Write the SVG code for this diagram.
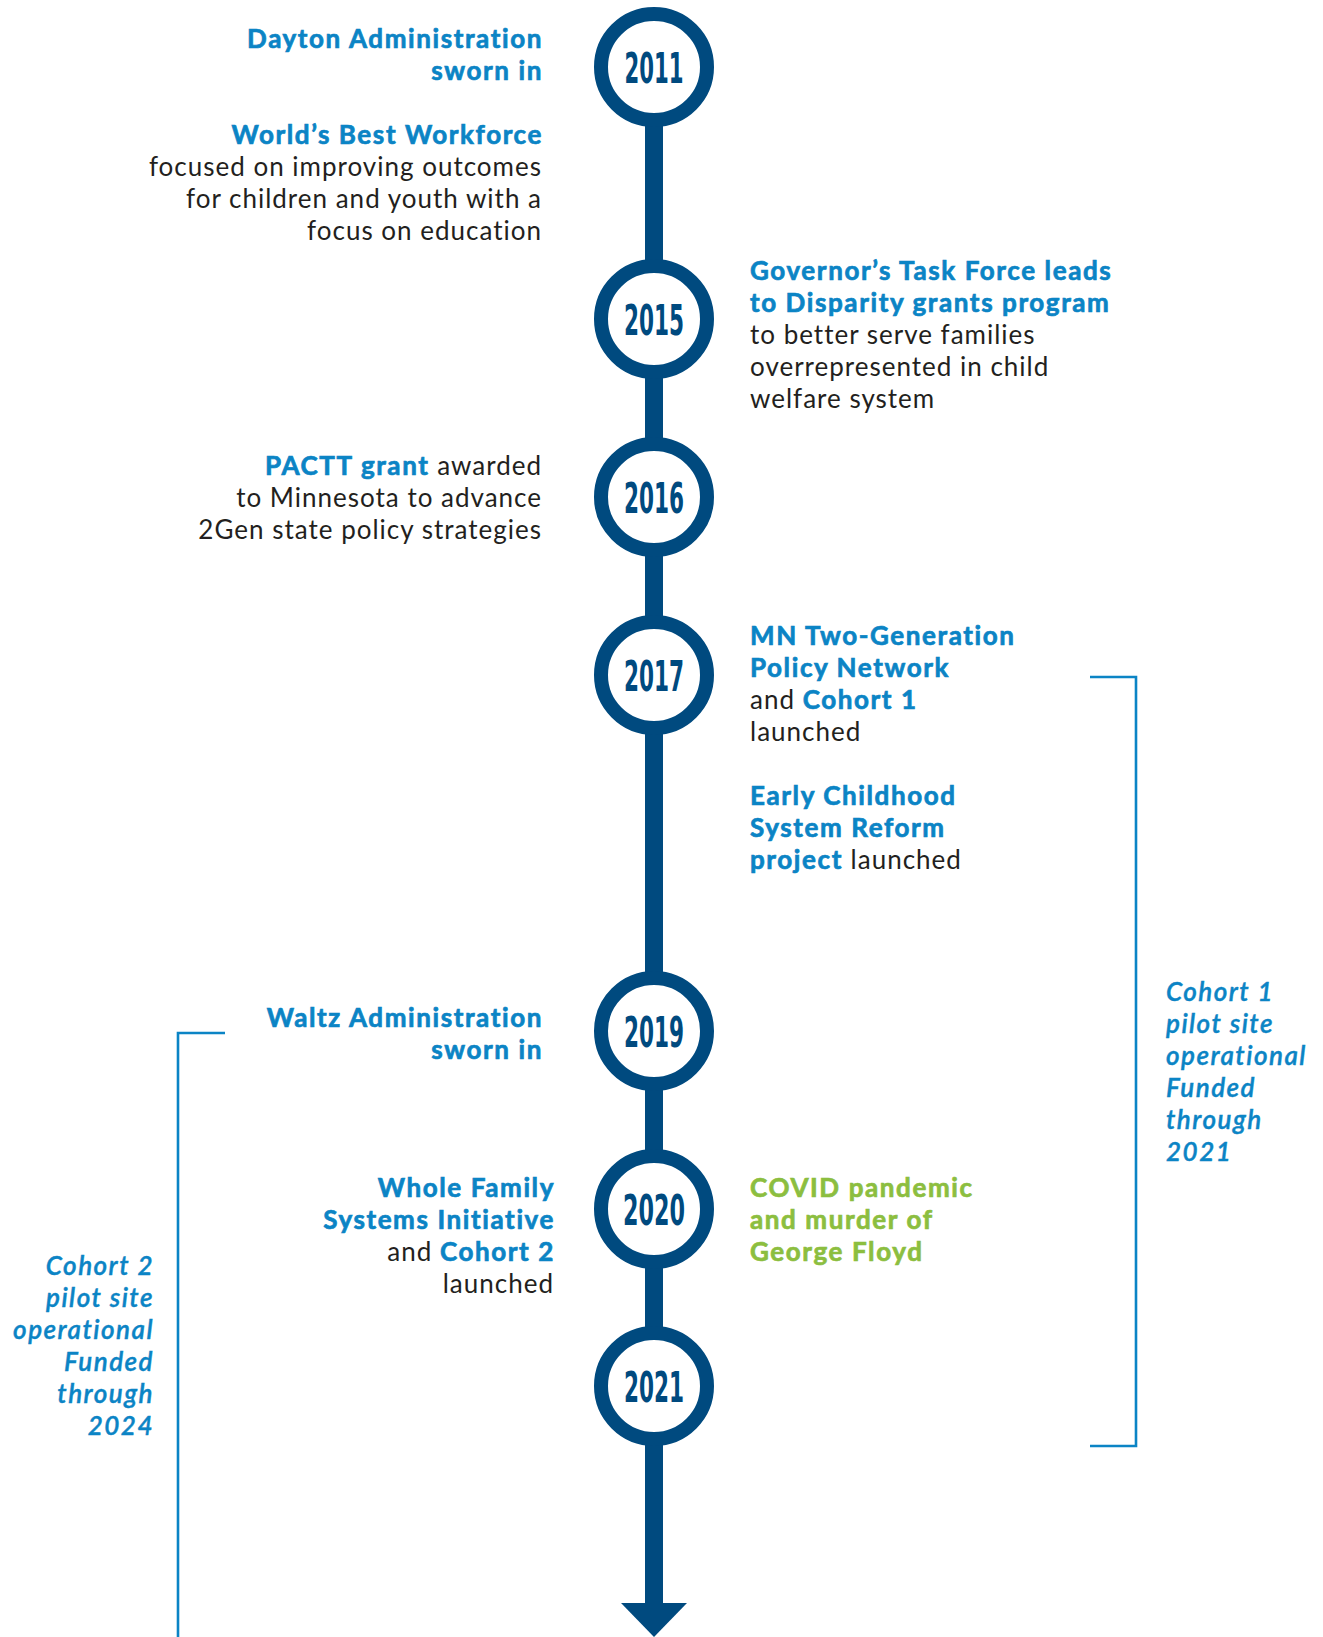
<svg xmlns="http://www.w3.org/2000/svg" width="1323" height="1637" viewBox="0 0 1323 1637">
<style>
  text { font-family: Lato, "Open Sans", "Liberation Sans", sans-serif; font-size: 26px; fill: #231f20; letter-spacing: 1px; }
  .b { font-weight: bold; fill: #0b84c5; stroke: #0b84c5; stroke-width: 0.7; letter-spacing: 1.6px; }
  .g { font-weight: bold; fill: #8cbe3f; stroke: #8cbe3f; stroke-width: 0.7; letter-spacing: 1.6px; }
  .it { font-style: italic; font-weight: 600; fill: #0b84c5; stroke: #0b84c5; stroke-width: 0.4; letter-spacing: 1.5px; }
  .r { text-anchor: end; }
  .yr { font-family: "DejaVu Sans Condensed", "Liberation Sans", sans-serif; font-weight: bold; font-size: 43px; fill: #004a7f; text-anchor: middle; letter-spacing: 0; stroke: none; }
  .ring { fill: #ffffff; stroke: #004a7f; stroke-width: 14; }
  .br { fill: none; stroke: #0b84c5; stroke-width: 2.6; }
</style>
<rect width="1323" height="1637" fill="#ffffff"/>
<g id="connectors">
  <rect x="645" y="67" width="18" height="1540" fill="#004a7f"/>
  <polygon points="621,1603 687,1603 654,1637" fill="#004a7f"/>
  <polyline class="br" points="1090,677 1136,677 1136,1446 1090,1446"/>
  <polyline class="br" points="225,1033 178,1033 178,1637"/>
</g>
<g id="y2011"><circle class="ring" cx="654" cy="67" r="53"/><text class="yr" x="654" y="83" textLength="59" lengthAdjust="spacingAndGlyphs">2011</text></g>
<g id="y2015"><circle class="ring" cx="654" cy="319" r="53"/><text class="yr" x="654" y="335" textLength="60" lengthAdjust="spacingAndGlyphs">2015</text></g>
<g id="y2016"><circle class="ring" cx="654" cy="497" r="53"/><text class="yr" x="654" y="513" textLength="60" lengthAdjust="spacingAndGlyphs">2016</text></g>
<g id="y2017"><circle class="ring" cx="654" cy="675" r="53"/><text class="yr" x="654" y="691" textLength="60" lengthAdjust="spacingAndGlyphs">2017</text></g>
<g id="y2019"><circle class="ring" cx="654" cy="1031" r="53"/><text class="yr" x="654" y="1047" textLength="60" lengthAdjust="spacingAndGlyphs">2019</text></g>
<g id="y2020"><circle class="ring" cx="654" cy="1209" r="53"/><text class="yr" x="654" y="1225" textLength="62" lengthAdjust="spacingAndGlyphs">2020</text></g>
<g id="y2021"><circle class="ring" cx="654" cy="1386" r="53"/><text class="yr" x="654" y="1402" textLength="60" lengthAdjust="spacingAndGlyphs">2021</text></g>

<g id="dayton">
  <text class="b r" x="543" y="48">Dayton Administration</text>
  <text class="b r" x="543" y="80">sworn in</text>
</g>
<g id="worlds-best">
  <text class="b r" x="543" y="144">World’s Best Workforce</text>
  <text class="r" x="542" y="176">focused on improving outcomes</text>
  <text class="r" x="542" y="208">for children and youth with a</text>
  <text class="r" x="542" y="240">focus on education</text>
</g>
<g id="governor">
  <text class="b" x="750" y="280">Governor’s Task Force leads</text>
  <text class="b" x="750" y="312">to Disparity grants program</text>
  <text x="750" y="344">to better serve families</text>
  <text x="750" y="376">overrepresented in child</text>
  <text x="750" y="408">welfare system</text>
</g>
<g id="pactt">
  <text class="r" x="542" y="475"><tspan class="b">PACTT grant</tspan> awarded</text>
  <text class="r" x="542" y="507">to Minnesota to advance</text>
  <text class="r" x="542" y="539">2Gen state policy strategies</text>
</g>
<g id="mn-network">
  <text class="b" x="750" y="645">MN Two-Generation</text>
  <text class="b" x="750" y="677">Policy Network</text>
  <text x="750" y="709">and <tspan class="b">Cohort 1</tspan></text>
  <text x="750" y="741">launched</text>
</g>
<g id="early-childhood">
  <text class="b" x="750" y="805">Early Childhood</text>
  <text class="b" x="750" y="837">System Reform</text>
  <text x="750" y="869"><tspan class="b">project</tspan> launched</text>
</g>
<g id="waltz">
  <text class="b r" x="543" y="1027">Waltz Administration</text>
  <text class="b r" x="543" y="1059">sworn in</text>
</g>
<g id="whole-family">
  <text class="b r" x="555" y="1197">Whole Family</text>
  <text class="b r" x="555" y="1229">Systems Initiative</text>
  <text class="r" x="555" y="1261">and <tspan class="b">Cohort 2</tspan></text>
  <text class="r" x="554" y="1293">launched</text>
</g>
<g id="covid">
  <text class="g" x="750" y="1197">COVID pandemic</text>
  <text class="g" x="750" y="1229">and murder of</text>
  <text class="g" x="750" y="1261">George Floyd</text>
</g>
<g id="cohort1">
  <text class="it" x="1166" y="1001">Cohort 1</text>
  <text class="it" x="1166" y="1033">pilot site</text>
  <text class="it" x="1166" y="1065">operational</text>
  <text class="it" x="1166" y="1097">Funded</text>
  <text class="it" x="1166" y="1129">through</text>
  <text class="it" x="1166" y="1161">2021</text>
</g>
<g id="cohort2">
  <text class="it r" x="154" y="1275">Cohort 2</text>
  <text class="it r" x="154" y="1307">pilot site</text>
  <text class="it r" x="154" y="1339">operational</text>
  <text class="it r" x="154" y="1371">Funded</text>
  <text class="it r" x="154" y="1403">through</text>
  <text class="it r" x="154" y="1435">2024</text>
</g>
</svg>
